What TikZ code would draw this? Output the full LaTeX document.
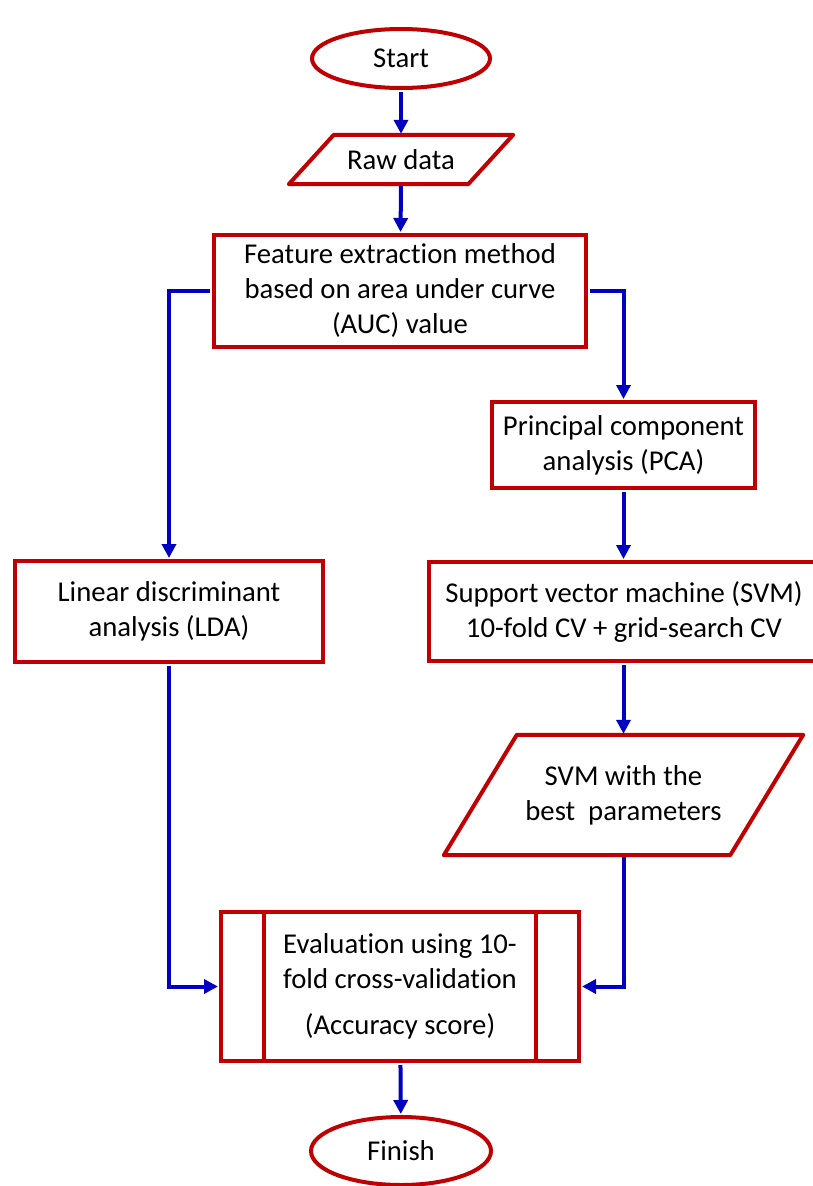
\documentclass[tikz,border=0pt]{standalone}
\usepackage{fontspec}
\setmainfont{Carlito}[Ligatures={NoCommon}]
\usetikzlibrary{shapes.geometric,arrows.meta}
\definecolor{boxred}{RGB}{192,0,0}
\definecolor{lineblue}{RGB}{0,0,192}
\tikzset{
  flowtext/.style={font=\fontsize{28.7}{35}\selectfont, align=center, inner sep=0pt},
  flowbox/.style={flowtext, rectangle, draw=boxred, line width=4pt},
  flowend/.style={flowtext, ellipse, draw=boxred, line width=4pt},
  flowpara/.style={draw=boxred, line width=4pt, line join=round},
  flowline/.style={draw=lineblue, line width=4pt, shorten <=2pt, shorten >=1pt,
    -{Triangle[length=14pt,width=14pt]}},
}
\begin{document}
\begin{tikzpicture}[x=1pt,y=1pt,yscale=-1]
\useasboundingbox (0,0) rectangle (813,1186);
\clip (0,0) rectangle (813,1186);

%Flowchart: Terminator
\node (start) [flowend, minimum width=178, minimum height=59] at (401,58.5) {Start};
%Flowchart: Data
\node (raw) [flowtext, minimum width=179, minimum height=49] at (401,159.5) {Raw data};
\draw [flowpara] ([xshift=22.5]raw.north west) -- ([xshift=22.5]raw.north east)
  -- ([xshift=-22.5]raw.south east) -- ([xshift=-22.5]raw.south west) -- cycle;
%Flowchart: Process
\node (feat) [flowbox, minimum width=372, minimum height=112] at (400,291)
  {Feature extraction method\\based on area under curve\\(AUC) value};
%Flowchart: Process
\node (pca) [flowbox, minimum width=263, minimum height=86] at (623.5,445)
  {Principal component\\analysis (PCA)};
%Flowchart: Process
\node (lda) [flowbox, minimum width=308, minimum height=101] at (169,611.5)
  {Linear discriminant\\analysis (LDA)};
%Flowchart: Process
\node (svm) [flowbox, minimum width=390, minimum height=99] at (624,611.5)
  {Support vector machine (SVM)\\10-fold CV + grid-search CV};
%Flowchart: Data
\node (best) [flowtext, minimum width=286, minimum height=120] at (623.5,795)
  {SVM with the\\best~ parameters};
\draw [flowpara] ([xshift=36.5]best.north west) -- ([xshift=36.5]best.north east)
  -- ([xshift=-36.5]best.south east) -- ([xshift=-36.5]best.south west) -- cycle;
%Flowchart: Predefined Process
\node (eval) [flowbox, minimum width=358, minimum height=149] at (400,986.5)
  {Evaluation using 10-\\fold cross-validation\\[11pt](Accuracy score)};
\draw [flowpara] ([xshift=45]eval.north west) -- ([xshift=45]eval.south west);
\draw [flowpara] ([xshift=-45]eval.north east) -- ([xshift=-45]eval.south east);
%Flowchart: Terminator
\node (finish) [flowend, minimum width=180, minimum height=68] at (401,1151) {Finish};

%Straight Lines
\draw [flowline] (start) -- (raw.north);
\draw [flowline] (raw.south) -- (feat);
\draw [flowline] (feat.west) -| (lda.north);
\draw [flowline] (feat.east) -| (pca.north);
\draw [flowline] (pca.south) -- (pca.south |- svm.north);
\draw [flowline] (best.north |- svm.south) -- (best.north);
\draw [flowline] (best.south) |- (eval.east);
\draw [flowline] (lda.south) |- (eval.west);
\draw [flowline] (eval) -- (finish);

\end{tikzpicture}
\end{document}
